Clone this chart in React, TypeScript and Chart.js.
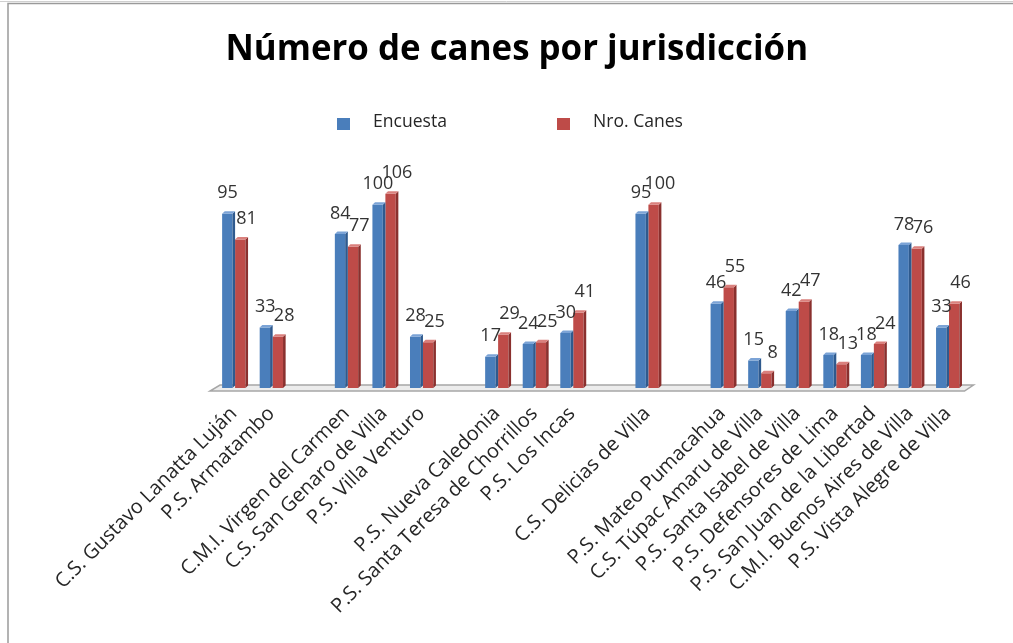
import React, { useEffect, useRef } from "react";
import { Chart, registerables } from "chart.js";

Chart.register(...registerables);

// ---------- data ----------
const categories: string[] = [
  "C.S. Gustavo Lanatta Luján",
  "P.S. Armatambo",
  "",
  "C.M.I. Virgen del Carmen",
  "C.S. San Genaro de Villa",
  "P.S. Villa Venturo",
  "",
  "P.S. Nueva Caledonia",
  "P.S. Santa Teresa de Chorrillos",
  "P.S. Los Incas",
  "",
  "C.S. Delicias de Villa",
  "",
  "P.S. Mateo Pumacahua",
  "C.S. Túpac Amaru de Villa",
  "P.S. Santa Isabel de Villa",
  "P.S. Defensores de Lima",
  "P.S. San Juan de la Libertad",
  "C.M.I. Buenos Aires de Villa",
  "P.S. Vista Alegre de Villa",
];
const encuesta: (number | null)[] = [95, 33, null, 84, 100, 28, null, 17, 24, 30, null, 95, null, 46, 15, 42, 18, 18, 78, 33];
const nroCanes: (number | null)[] = [81, 28, null, 77, 106, 25, null, 29, 25, 41, null, 100, null, 55, 8, 47, 13, 24, 76, 46];
const seriesNames: string[] = ["Encuesta", "Nro. Canes"];
const titleText = "Número de canes por jurisdicción";

// ---------- styles ----------
const BLUE = "#4a7ebb";
const BLUE_SIDE = "#2f5a8e";
const BLUE_TOP = "#7ba3d6";
const RED = "#be4b48";
const RED_SIDE = "#8a302e";
const RED_TOP = "#da807d";
const W = 1013;
const H = 643;
const Y_MAX = 120;
const PLOT_TOP = 168;
const PLOT_BOTTOM = 388;
const DX = 2.6;
const DY = 2.5;

function measure(font: string, text: string): number {
  const c = document.createElement("canvas").getContext("2d")!;
  c.font = font;
  return c.measureText(text).width;
}

export default function App() {
  const ref = useRef<HTMLCanvasElement | null>(null);

  useEffect(() => {
    const canvas = ref.current;
    if (!canvas) return;

    let titleFam = '"Liberation Sans Narrow"';
    const a = measure('bold 40px "Liberation Sans Narrow", monospace', titleText);
    const b = measure("bold 40px monospace", titleText);
    if (Math.abs(a - b) < 0.5) titleFam = '"Open Sans"';
    let titleSize = (40 * 583) / measure(`bold 40px ${titleFam}`, titleText);
    titleSize = Math.min(44, Math.max(24, titleSize));
    const titleCenter = 50;
    const padTop = titleCenter - 0.6 * titleSize;
    const padBottom = PLOT_TOP - padTop - 1.2 * titleSize;

    let tickSize = (10 * 150) / measure('10px "Open Sans"', "P.S. Armatambo");
    tickSize = Math.min(20, Math.max(12, tickSize));
    let legendSize = (10 * 74) / measure('10px "Open Sans"', "Encuesta");
    legendSize = Math.min(18, Math.max(12, legendSize));

    const colors = [
      { front: BLUE, side: BLUE_SIDE, top: BLUE_TOP, labelShift: -1 },
      { front: RED, side: RED_SIDE, top: RED_TOP, labelShift: 5 },
    ];

    const framePlugin = {
      id: "frame",
      beforeDraw(chart: any) {
        const ctx = chart.ctx;
        ctx.save();
        ctx.fillStyle = "#ffffff";
        ctx.fillRect(0, 0, W, H);
        ctx.strokeStyle = "#d0d0d0";
        ctx.lineWidth = 1;
        ctx.beginPath();
        ctx.moveTo(0, 1.5);
        ctx.lineTo(W, 1.5);
        ctx.stroke();
        ctx.strokeStyle = "#9a9a9a";
        ctx.lineWidth = 1.5;
        ctx.strokeRect(8, 3.5, W + 20, H + 20);
        ctx.restore();
      },
    };

    const floorPlugin = {
      id: "floor3d",
      beforeDatasetsDraw(chart: any) {
        const { ctx, chartArea } = chart;
        const y0 = chart.scales.y.getPixelForValue(0);
        const l = chartArea.left - 5;
        const r = chartArea.right - 2;
        ctx.save();
        ctx.beginPath();
        ctx.moveTo(l, y0 + 3);
        ctx.lineTo(r, y0 + 3);
        ctx.lineTo(r + 9, y0 - 3);
        ctx.lineTo(l + 10, y0 - 3);
        ctx.closePath();
        ctx.fillStyle = "#ececec";
        ctx.fill();
        ctx.strokeStyle = "#a6a6a6";
        ctx.lineWidth = 1.5;
        ctx.stroke();
        ctx.restore();
      },
    };

    const bar3dPlugin = {
      id: "bar3d",
      afterDatasetDraw(chart: any, args: any) {
        const meta = args.meta;
        const c = colors[args.index];
        const ctx = chart.ctx;
        ctx.save();
        meta.data.forEach((el: any, i: number) => {
          const v = chart.data.datasets[args.index].data[i];
          if (v === null || v === undefined) return;
          const l = el.x - el.width / 2;
          const r = el.x + el.width / 2;
          const top = el.y;
          const base = el.base;
          ctx.fillStyle = c.side;
          ctx.beginPath();
          ctx.moveTo(r, top);
          ctx.lineTo(r + DX, top - DY);
          ctx.lineTo(r + DX, base - DY);
          ctx.lineTo(r, base);
          ctx.closePath();
          ctx.fill();
          ctx.fillStyle = c.top;
          ctx.beginPath();
          ctx.moveTo(l, top);
          ctx.lineTo(l + DX, top - DY);
          ctx.lineTo(r + DX, top - DY);
          ctx.lineTo(r, top);
          ctx.closePath();
          ctx.fill();
        });
        ctx.restore();
      },
    };

    const labelPlugin = {
      id: "valueLabels",
      afterDatasetsDraw(chart: any) {
        const ctx = chart.ctx;
        ctx.save();
        ctx.font = `18px "Open Sans", sans-serif`;
        ctx.fillStyle = "#333333";
        ctx.textAlign = "center";
        ctx.textBaseline = "bottom";
        chart.data.datasets.forEach((ds: any, di: number) => {
          const meta = chart.getDatasetMeta(di);
          meta.data.forEach((el: any, i: number) => {
            const v = ds.data[i];
            if (v === null || v === undefined) return;
            ctx.fillText(String(v), el.x + DX / 2 + colors[di].labelShift, el.y - DY - 9);
          });
        });
        ctx.restore();
      },
    };

    const legendPlugin = {
      id: "excelLegend",
      afterDraw(chart: any) {
        const ctx = chart.ctx;
        const items = [
          { text: seriesNames[0], color: BLUE, x: 337 },
          { text: seriesNames[1], color: RED, x: 557 },
        ];
        ctx.save();
        ctx.font = `${legendSize}px "Open Sans", sans-serif`;
        ctx.textBaseline = "middle";
        ctx.textAlign = "left";
        items.forEach((it) => {
          ctx.fillStyle = it.color;
          ctx.fillRect(it.x, 118, 13, 12);
          ctx.fillStyle = "#262626";
          ctx.fillText(it.text, it.x + 36, 122);
        });
        ctx.restore();
      },
    };

    const chart = new Chart(canvas, {
      type: "bar",
      data: {
        labels: categories,
        datasets: [
          {
            label: seriesNames[0],
            data: encuesta,
            backgroundColor: BLUE,
            borderWidth: 0,
            categoryPercentage: 0.69,
            barPercentage: 0.8,
          },
          {
            label: seriesNames[1],
            data: nroCanes,
            backgroundColor: RED,
            borderWidth: 0,
            categoryPercentage: 0.69,
            barPercentage: 0.8,
          },
        ],
      },
      options: {
        responsive: false,
        animation: false,
        devicePixelRatio: 1,
        layout: { padding: { left: 67, right: 46.5, top: 0, bottom: 0 } },
        plugins: {
          legend: { display: false },
          tooltip: { enabled: false },
          title: {
            display: true,
            text: titleText,
            color: "#000000",
            font: { family: titleFam.replace(/"/g, ""), size: titleSize, weight: "bold", lineHeight: 1.2 },
            padding: { top: padTop, bottom: padBottom },
          },
        },
        scales: {
          x: {
            grid: { display: false, drawTicks: false },
            border: { display: false },
            ticks: {
              autoSkip: false,
              minRotation: 45,
              maxRotation: 45,
              padding: 14,
              color: "#262626",
              font: { family: "Open Sans", size: tickSize },
            },
            afterFit: (s: any) => {
              s.height = H - PLOT_BOTTOM;
            },
          },
          y: {
            min: 0,
            max: Y_MAX,
            display: true,
            grid: { display: false, drawTicks: false },
            border: { display: false },
            ticks: { display: false },
            afterFit: (s: any) => {
              s.width = 148;
            },
          },
        },
      },
      plugins: [framePlugin, floorPlugin, bar3dPlugin, labelPlugin, legendPlugin],
    } as any);

    return () => chart.destroy();
  }, []);

  return (
    <div style={{ position: "fixed", left: 0, top: 0, width: W, height: H, background: "#fff" }}>
      <canvas ref={ref} width={W} height={H} style={{ display: "block" }} />
    </div>
  );
}
